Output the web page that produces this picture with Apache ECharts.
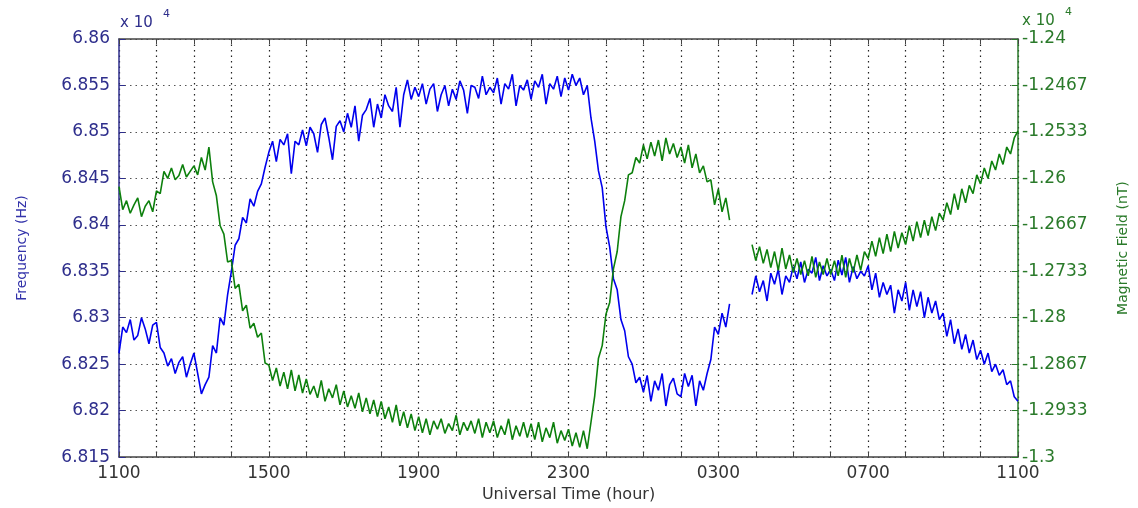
<!DOCTYPE html>
<html>
<head>
<meta charset="utf-8">
<script src="https://cdn.jsdelivr.net/npm/echarts@6/dist/echarts.min.js"></script>
<style>
html, body { margin: 0; padding: 0; background: #fff; }
#chart { width: 1138px; height: 508px; }
</style>
</head>
<body>
<div id="chart"></div>
<script>
// hours since 1100 UT, one sample every 0.1 h
var stepHours = 0.1;
var xTickLabels = ['1100', '1500', '1900', '2300', '0300', '0700', '1100'];

// Frequency (Hz)
var frequency = [
  68262, 68290, 68284, 68298, 68276, 68281, 68300, 68288, 68272, 68292,
  68295, 68268, 68262, 68248, 68256, 68240, 68252, 68258, 68236, 68250,
  68262, 68240, 68218, 68228, 68236, 68270, 68262, 68300, 68292, 68325,
  68350, 68378, 68385, 68408, 68402, 68428, 68420, 68436, 68444, 68462,
  68478, 68490, 68468, 68492, 68486, 68498, 68455, 68490, 68486, 68502,
  68485, 68505, 68498, 68478, 68508, 68515, 68494, 68470, 68506, 68512,
  68500, 68520, 68505, 68528, 68490, 68518, 68524, 68536, 68505, 68530,
  68515, 68540, 68528, 68522, 68548, 68505, 68540, 68556, 68535, 68548,
  68538, 68552, 68530, 68546, 68552, 68522, 68540, 68550, 68528, 68546,
  68535, 68555, 68545, 68520, 68550, 68548, 68536, 68560, 68540, 68548,
  68542, 68558, 68530, 68552, 68546, 68562, 68528, 68550, 68545, 68556,
  68535, 68555, 68548, 68562, 68530, 68552, 68546, 68560, 68538, 68558,
  68545, 68562, 68550, 68558, 68540, 68550, 68515, 68490, 68458, 68440,
  68398, 68376, 68342, 68330, 68298, 68286, 68258, 68250, 68230, 68236,
  68220, 68238, 68210, 68232, 68222, 68240, 68205, 68228, 68235, 68218,
  68215, 68240, 68226, 68238, 68205, 68232, 68222, 68240, 68255, 68290,
  68282, 68305, 68290, 68315, null, null, null, null, null, 68325,
  68345, 68328, 68340, 68318, 68348, 68336, 68352, 68325, 68345, 68338,
  68355, 68342, 68360, 68338, 68352, 68348, 68365, 68340, 68356, 68345,
  68352, 68340, 68362, 68346, 68365, 68338, 68355, 68342, 68350, 68345,
  68356, 68330, 68348, 68322, 68338, 68325, 68335, 68305, 68330, 68318,
  68338, 68308, 68330, 68312, 68328, 68300, 68322, 68305, 68318, 68298,
  68305, 68280, 68298, 68272, 68288, 68266, 68282, 68262, 68276, 68255,
  68265, 68250, 68262, 68242, 68250, 68238, 68244, 68228, 68232, 68215,
  68210
];

// Magnetic field (nT)
var magField = [
  -12612, -12645, -12632, -12650, -12638, -12628, -12655, -12640, -12632, -12648,
  -12618, -12622, -12590, -12600, -12585, -12602, -12596, -12580, -12598, -12590,
  -12582, -12595, -12570, -12588, -12555, -12605, -12625, -12668, -12680, -12720,
  -12718, -12758, -12752, -12790, -12782, -12815, -12808, -12828, -12822, -12865,
  -12868, -12890, -12872, -12898, -12878, -12902, -12875, -12905, -12882, -12908,
  -12888, -12910, -12898, -12915, -12890, -12920, -12902, -12915, -12896, -12925,
  -12905, -12928, -12912, -12930, -12908, -12935, -12915, -12938, -12918, -12942,
  -12920, -12945, -12928, -12950, -12925, -12955, -12935, -12958, -12938, -12962,
  -12942, -12965, -12945, -12968, -12948, -12960, -12945, -12966, -12952, -12962,
  -12940, -12968, -12950, -12962, -12948, -12966, -12945, -12972, -12950, -12965,
  -12948, -12972, -12955, -12968, -12945, -12975, -12955, -12970, -12950, -12972,
  -12952, -12975, -12950, -12978, -12958, -12972, -12950, -12980, -12962, -12976,
  -12960, -12984, -12965, -12986, -12962, -12988, -12950, -12912, -12858, -12840,
  -12795, -12778, -12730, -12705, -12655, -12632, -12595, -12592, -12570, -12578,
  -12552, -12572, -12548, -12568, -12545, -12575, -12542, -12565, -12550, -12570,
  -12555, -12578, -12552, -12585, -12565, -12592, -12582, -12605, -12602, -12638,
  -12615, -12648, -12628, -12660, null, null, null, null, null, -12695,
  -12718, -12698, -12722, -12702, -12728, -12705, -12732, -12700, -12730, -12710,
  -12735, -12715, -12738, -12718, -12740, -12712, -12742, -12720, -12738, -12715,
  -12738, -12718, -12740, -12710, -12742, -12715, -12735, -12710, -12732, -12705,
  -12715, -12690, -12712, -12685, -12708, -12680, -12705, -12676, -12700, -12678,
  -12695, -12668, -12690, -12662, -12685, -12660, -12682, -12655, -12675, -12650,
  -12660, -12635, -12652, -12622, -12645, -12615, -12635, -12610, -12622, -12595,
  -12608, -12585, -12600, -12575, -12588, -12565, -12580, -12555, -12565, -12542,
  -12532
];

function pairs(values) {
    var out = [];
    for (var i = 0; i < values.length; i++) {
        out.push([+(i * stepHours).toFixed(1), values[i]]);
    }
    return out;
}

function sci(v) {
    return String(parseFloat((v / 1e4).toFixed(4)));
}

var fontName = 'DejaVu Sans';
var leftColor = '#2e2e8c';
var rightColor = '#2a7a2a';

var myChart = echarts.init(document.getElementById('chart'));

myChart.setOption({
    backgroundColor: '#ffffff',
    animation: false,
    grid: { left: 119, right: 119, top: 39, bottom: 46 },
    xAxis: [{
        type: 'value',
        min: 0, max: 24, interval: 1,
        name: 'Universal Time (hour)',
        nameLocation: 'middle',
        nameGap: 29,
        nameTextStyle: { color: '#333', fontFamily: fontName, fontSize: 16 },
        axisLine: { onZero: false, lineStyle: { color: '#444', width: 1.5 } },
        axisTick: { inside: true, length: 5, lineStyle: { color: '#444' } },
        axisLabel: {
            color: '#333', fontFamily: fontName, fontSize: 17, margin: 8,
            showMinLabel: true, showMaxLabel: true,
            formatter: function (v) {
                return v % 4 === 0 ? xTickLabels[v / 4] : '';
            }
        },
        splitLine: { show: true, lineStyle: { type: [1.5, 4], color: '#222', width: 1.2 } }
    }, {
        type: 'value',
        position: 'top',
        min: 0, max: 24, interval: 1,
        axisLine: { onZero: false, lineStyle: { color: '#444', width: 1.5 } },
        axisTick: { inside: true, length: 5, lineStyle: { color: '#444' } },
        axisLabel: { show: false },
        splitLine: { show: false }
    }],
    yAxis: [{
        type: 'value',
        min: 68150, max: 68600, interval: 50,
        name: 'Frequency (Hz)',
        nameLocation: 'middle',
        nameGap: 90,
        nameTextStyle: { color: '#3333aa', fontFamily: fontName, fontSize: 14 },
        axisLine: { show: true, onZero: false, lineStyle: { color: leftColor, width: 1.5 } },
        axisTick: { show: true, inside: true, length: 6, lineStyle: { color: leftColor } },
        axisLabel: { color: leftColor, fontFamily: fontName, fontSize: 17, margin: 9, formatter: sci },
        splitLine: { show: true, lineStyle: { type: [1.5, 4], color: '#555', width: 1 } }
    }, {
        type: 'value',
        min: -13000, max: -12400, interval: 600 / 9,
        name: 'Magnetic Field (nT)',
        nameLocation: 'middle',
        nameGap: 98,
        nameRotate: 90,
        nameTextStyle: { color: rightColor, fontFamily: fontName, fontSize: 14 },
        position: 'right',
        axisLine: { show: true, onZero: false, lineStyle: { color: rightColor, width: 1.5 } },
        axisTick: { show: true, inside: true, length: 6, lineStyle: { color: rightColor } },
        axisLabel: { color: rightColor, fontFamily: fontName, fontSize: 17, margin: 4, formatter: sci },
        splitLine: { show: false }
    }],
    graphic: [
        { type: 'text', left: 120, top: 16, style: { text: 'x 10', fill: leftColor, font: '15px DejaVu Sans' } },
        { type: 'text', left: 163, top: 9, style: { text: '4', fill: leftColor, font: '11px DejaVu Sans' } },
        { type: 'text', left: 1022, top: 14, style: { text: 'x 10', fill: rightColor, font: '15px DejaVu Sans' } },
        { type: 'text', left: 1065, top: 7, style: { text: '4', fill: rightColor, font: '11px DejaVu Sans' } }
    ],
    series: [{
        name: 'Frequency',
        type: 'line',
        xAxisIndex: 0,
        yAxisIndex: 0,
        showSymbol: false,
        connectNulls: false,
        lineStyle: { color: '#0000ee', width: 1.6 },
        itemStyle: { color: '#0000ee' },
        data: pairs(frequency)
    }, {
        name: 'Magnetic Field',
        type: 'line',
        xAxisIndex: 0,
        yAxisIndex: 1,
        showSymbol: false,
        connectNulls: false,
        lineStyle: { color: '#0d800d', width: 1.6 },
        itemStyle: { color: '#0d800d' },
        data: pairs(magField)
    }]
});
</script>
</body>
</html>
